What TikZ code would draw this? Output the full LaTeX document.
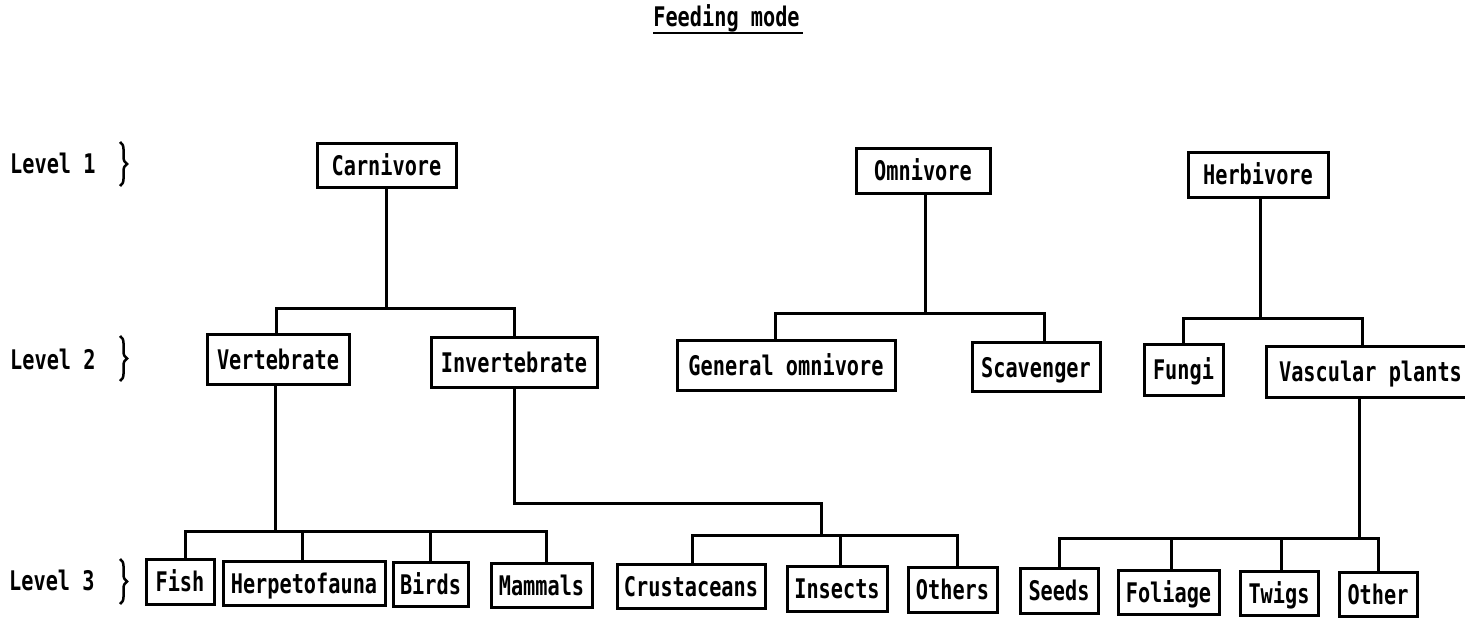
\documentclass[tikz,border=0pt]{standalone}
\usepackage{fontspec}
\newfontfamily\tw[FakeStretch=0.75]{DejaVu Sans Mono}
\usetikzlibrary{decorations.pathreplacing}
\begin{document}
\begin{tikzpicture}[x=1pt,y=-1pt,
  txt/.style={font=\tw\bfseries\fontsize{27}{27}\selectfont, inner sep=0pt},
  box/.style={txt, draw, line width=3pt, text height=20pt, text depth=0pt},
  conn/.style={line width=3pt},
  brc/.style={decorate, decoration={brace, amplitude=7pt}, line width=2.5pt}]
\useasboundingbox (0,0) rectangle (1465,618);
\clip (0,0) rectangle (1465,618);

% title
\node[txt, anchor=base] (title) at (726.5,27) {Feeding mode};
\draw[line width=2.5pt] ([yshift=-6pt]title.base west) -- ([yshift=-6pt,xshift=3pt]title.base east);

% level labels
\node[txt, anchor=west] (l1) at (10,163) {Level 1};
\node[txt, anchor=west] (l2) at (10,359) {Level 2};
\node[txt, anchor=west] (l3) at (9,580) {Level 3};
\coordinate (b1t) at (120,142); \coordinate (b1b) at (120,186);
\coordinate (b2t) at (120,336); \coordinate (b2b) at (120,381);
\coordinate (b3t) at (120,559); \coordinate (b3b) at (120,604);
\draw[brc] (b1t) -- (b1b);
\draw[brc] (b2t) -- (b2b);
\draw[brc] (b3t) -- (b3b);

% level 1
\node[box, minimum width=139pt, minimum height=44pt] (carn) at (386.5,165) {Carnivore};
\node[box, minimum width=134pt, minimum height=45pt] (omni) at (923,170.5) {Omnivore};
\node[box, minimum width=140pt, minimum height=45pt] (herb) at (1258,174.5) {Herbivore};

% level 2
\node[box, minimum width=142pt, minimum height=50pt] (vert) at (278,359) {Vertebrate};
\node[box, minimum width=166pt, minimum height=50pt] (invt) at (514,362) {Invertebrate};
\node[box, minimum width=218pt, minimum height=50pt] (genom) at (786,365) {General omnivore};
\node[box, minimum width=128pt, minimum height=49pt] (scav) at (1036,367) {Scavenger};
\node[box, minimum width=79pt, minimum height=51pt] (fungi) at (1183.5,369.5) {Fungi};
\node[box, minimum width=209pt, minimum height=51pt] (vasc) at (1370.5,371.5) {Vascular plants};

% level 3
\node[box, minimum width=68pt, minimum height=45pt] (fish) at (180,581.5) {Fish};
\node[box, minimum width=162pt, minimum height=44pt] (herp) at (304,583) {Herpetofauna};
\node[box, minimum width=75pt, minimum height=44pt] (birds) at (430.5,584) {Birds};
\node[box, minimum width=101pt, minimum height=44pt] (mamm) at (541.5,585) {Mammals};
\node[box, minimum width=148pt, minimum height=44pt] (crus) at (691,586) {Crustaceans};
\node[box, minimum width=100pt, minimum height=45pt] (ins) at (837,588.5) {Insects};
\node[box, minimum width=89pt, minimum height=45pt] (oth) at (952.5,589.5) {Others};
\node[box, minimum width=78pt, minimum height=45pt] (seeds) at (1059,590.5) {Seeds};
\node[box, minimum width=101pt, minimum height=44pt] (fol) at (1168.5,592) {Foliage};
\node[box, minimum width=78pt, minimum height=44pt] (twigs) at (1279,593) {Twigs};
\node[box, minimum width=78pt, minimum height=44pt] (other) at (1378,594) {Other};

% bar levels and elbows
\coordinate (cb) at (0,308);
\coordinate (ob) at (0,313);
\coordinate (hb) at (0,318);
\coordinate (vb) at (0,531);
\coordinate (ir) at (821,503);
\coordinate (ib) at (0,535);
\coordinate (pb) at (0,538);

% carnivore
\draw[conn] (carn.south) -- (carn.south |- cb);
\draw[conn] ([xshift=-2pt]vert.north) -- ([xshift=-2pt]vert.north |- cb) -- (invt.north |- cb) -- (invt.north);
% omnivore
\draw[conn] ([xshift=2pt]omni.south) -- ([xshift=2pt]omni.south |- ob);
\draw[conn] ([xshift=-11pt]genom.north) -- ([xshift=-11pt]genom.north |- ob) -- ([xshift=8pt]scav.north |- ob) -- ([xshift=8pt]scav.north);
% herbivore
\draw[conn] ([xshift=2pt]herb.south) -- ([xshift=2pt]herb.south |- hb);
\draw[conn] (fungi.north) -- (fungi.north |- hb) -- ([xshift=-8.5pt]vasc.north |- hb) -- ([xshift=-8.5pt]vasc.north);
% vertebrate
\draw[conn] ([xshift=-3pt]vert.south) -- ([xshift=-3pt]vert.south |- vb);
\draw[conn] ([xshift=5pt]fish.north) -- ([xshift=5pt]fish.north |- vb) -- ([xshift=5pt]mamm.north |- vb) -- ([xshift=5pt]mamm.north);
\draw[conn] ([xshift=-2pt]herp.north) -- ([xshift=-2pt]herp.north |- vb);
\draw[conn] (birds.north) -- (birds.north |- vb);
% invertebrate
\draw[conn] (invt.south) |- (ir) -- (ir |- ib);
\draw[conn] ([xshift=1pt]crus.north) -- ([xshift=1pt]crus.north |- ib) -- ([xshift=4.5pt]oth.north |- ib) -- ([xshift=4.5pt]oth.north);
\draw[conn] ([xshift=3pt]ins.north) -- ([xshift=3pt]ins.north |- ib);
% vascular plants
\draw[conn] ([xshift=-11.5pt]vasc.south) -- ([xshift=-11.5pt]vasc.south |- pb);
\draw[conn] (seeds.north) -- (seeds.north |- pb) -- (other.north |- pb) -- (other.north);
\draw[conn] ([xshift=2.5pt]fol.north) -- ([xshift=2.5pt]fol.north |- pb);
\draw[conn] ([xshift=2pt]twigs.north) -- ([xshift=2pt]twigs.north |- pb);
\end{tikzpicture}
\end{document}
